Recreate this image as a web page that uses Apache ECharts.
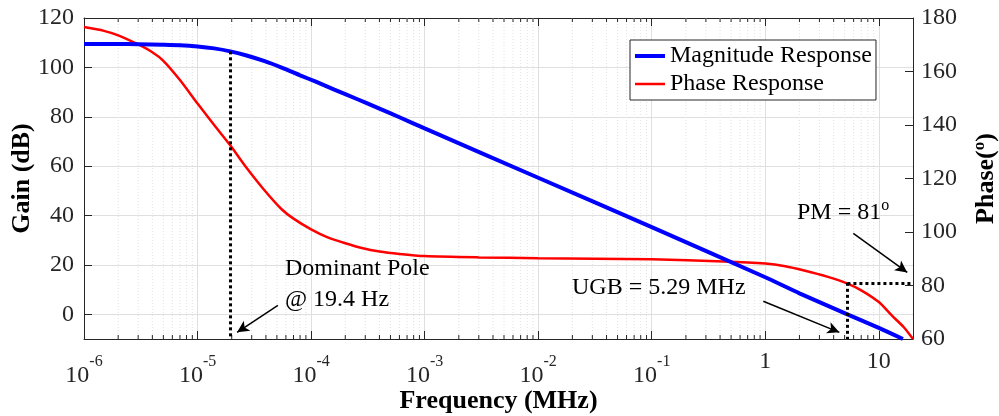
<!DOCTYPE html>
<html>
<head>
<meta charset="utf-8">
<script src="https://cdn.jsdelivr.net/npm/echarts@6/dist/echarts.min.js"></script>
<style>
  html, body { margin: 0; padding: 0; background: #fff; }
  #main { width: 999px; height: 416px; }
</style>
</head>
<body>
<div id="main"></div>
<script>
var FONT = 'Liberation Serif';

// magnitude response (MHz, dB)
var magFreq = [1e-6, 2e-6, 3e-6, 5e-6, 7e-6, 1e-5, 1.4e-5, 1.94e-5, 2.7e-5, 3.9e-5, 5.5e-5, 8e-5, 1.1e-4, 1.6e-4, 2.5e-4, 4e-4, 6e-4, 1e-3, 1e-2, 0.1, 1, 2, 5.29, 10, 16.3];
var magGain = [109.5, 109.5, 109.4, 109.2, 109.0, 108.5, 107.7, 106.5, 104.8, 102.5, 99.9, 96.8, 94.2, 91.0, 87.3, 83.3, 79.8, 75.3, 55.3, 35.3, 15.0, 8.5, 0, -5.5, -10];

// phase response (MHz, degrees)
var phFreq = [1e-6, 1.5e-6, 2e-6, 3e-6, 4e-6, 5e-6, 7e-6, 1e-5, 1.4e-5, 1.94e-5, 2.7e-5, 3.9e-5, 5.5e-5, 7e-5, 1e-4, 1.4e-4, 2e-4, 2.8e-4, 4e-4, 6e-4, 1e-3, 3e-3, 1e-2, 0.1, 0.43, 1, 1.5, 2.2, 3.5, 5.29, 7, 10, 13, 16.6, 20];
var phDeg = [176.6, 175.2, 173.5, 170.1, 167.2, 164, 156.8, 148, 140, 132.4, 124, 115.5, 108.5, 105, 101, 98, 95.8, 94, 92.7, 91.8, 91.0, 90.5, 90.2, 89.8, 89.0, 88.2, 87.2, 85.6, 83.3, 80.7, 78.2, 73.8, 68.8, 64.4, 60];

var poleFreq = 1.94e-5, poleGain = 106.5;
var ugbFreq = 5.29, pmPhase = 81;

// minor ticks 2..9 per decade
var minorVals = [];
for (var d = -6; d <= 1; d++) {
  for (var k = 2; k <= 9; k++) {
    var v = k * Math.pow(10, d);
    if (v < 20) minorVals.push([v, 0]);
  }
}

function zip(a, b) { return a.map(function (x, i) { return [x, b[i]]; }); }

var axisColor = '#262626';
var myChart = echarts.init(document.getElementById('main'));

var option = {
  animation: false,
  grid: { left: 84, right: 86, top: 18, bottom: 77, outerBoundsMode: 'none', containLabel: false },
  legend: {
    orient: 'vertical',
    left: 630, top: 40,
    padding: [4, 4, 4, 3],
    itemGap: 4,
    itemWidth: 30,
    itemHeight: 24,
    backgroundColor: '#fff',
    borderColor: axisColor,
    borderWidth: 1,
    borderRadius: 0,
    textStyle: { fontFamily: FONT, fontSize: 24, color: '#000' },
    data: [
      { name: 'Magnitude Response', lineStyle: { width: 4, color: '#0000ff' }, itemStyle: { opacity: 0 } },
      { name: 'Phase Response', lineStyle: { width: 2.5, color: '#ff0000' }, itemStyle: { opacity: 0 } }
    ]
  },
  xAxis: [{
    type: 'log', logBase: 10, min: 1e-6, max: 20,
    name: 'Frequency (MHz)', nameLocation: 'middle', nameGap: 49, nameMoveOverlap: false,
    nameTextStyle: { fontFamily: FONT, fontSize: 26, fontWeight: 'bold', color: '#000' },
    axisLine: { show: true, onZero: false, lineStyle: { color: axisColor } },
    axisTick: { inside: true, length: 8, lineStyle: { color: axisColor } },
    splitLine: { show: true, lineStyle: { color: '#dfdfdf' } },
    axisLabel: {
      margin: 15, color: axisColor, fontFamily: FONT,
      formatter: function (v) {
        var l = Math.log10(v), e = Math.round(l);
        if (Math.abs(l - e) > 0.01) return '';
        if (e >= 0) return '{n|' + Math.pow(10, e) + '}';
        return '{b|10}{s|' + e + '}';
      },
      rich: {
        b: { fontFamily: FONT, fontSize: 24, lineHeight: 34, color: axisColor, verticalAlign: 'bottom' },
        s: { fontFamily: FONT, fontSize: 16, lineHeight: 18, color: axisColor, verticalAlign: 'top' },
        n: { fontFamily: FONT, fontSize: 24, lineHeight: 16, color: axisColor }
      }
    }
  }, {
    type: 'log', logBase: 10, min: 1e-6, max: 20, position: 'top',
    axisLine: { show: true, onZero: false, lineStyle: { color: axisColor } },
    axisTick: { inside: true, length: 8, lineStyle: { color: axisColor } },
    axisLabel: { show: false },
    splitLine: { show: false }
  }],
  yAxis: [{
    type: 'value', min: -10, max: 120, splitNumber: 6,
    name: 'Gain (dB)', nameLocation: 'middle', nameGap: 49, nameRotate: 90, nameMoveOverlap: false,
    nameTextStyle: { fontFamily: FONT, fontSize: 26, fontWeight: 'bold', color: '#000' },
    axisLine: { show: true, lineStyle: { color: axisColor } },
    axisTick: { inside: true, length: 8, lineStyle: { color: axisColor } },
    splitLine: { show: true, lineStyle: { color: '#dfdfdf' } },
    axisLabel: { showMinLabel: false, margin: 10, fontFamily: FONT, fontSize: 24, color: axisColor }
  }, {
    type: 'value', min: 60, max: 180, interval: 20, position: 'right',
    name: 'Phase({o|o})', nameLocation: 'middle', nameGap: 58, nameRotate: 90, nameMoveOverlap: false,
    nameTextStyle: {
      fontFamily: FONT, fontSize: 26, fontWeight: 'bold', color: '#000', lineHeight: 30,
      rich: { o: { fontFamily: FONT, fontSize: 17, fontWeight: 'bold', color: '#000', lineHeight: 14, verticalAlign: 'top' } }
    },
    axisLine: { show: true, lineStyle: { color: axisColor } },
    axisTick: { inside: true, length: 8, lineStyle: { color: axisColor } },
    splitLine: { show: false },
    axisLabel: { margin: 8, fontFamily: FONT, fontSize: 24, color: axisColor }
  }],
  series: [{
    type: 'custom',
    name: 'minor',
    xAxisIndex: 0, yAxisIndex: 0,
    z: 1, silent: true,
    data: minorVals,
    renderItem: function (params, api) {
      var v = api.value(0);
      var top = api.coord([v, 120]);
      var bot = api.coord([v, -10]);
      return {
        type: 'group',
        children: [
          { type: 'line', shape: { x1: top[0], y1: top[1], x2: bot[0], y2: bot[1] },
            style: { stroke: '#e2e2e2', lineWidth: 1, lineDash: [1, 2] } },
          { type: 'line', shape: { x1: bot[0], y1: bot[1], x2: bot[0], y2: bot[1] - 4 },
            style: { stroke: axisColor, lineWidth: 1 } },
          { type: 'line', shape: { x1: top[0], y1: top[1], x2: top[0], y2: top[1] + 4 },
            style: { stroke: axisColor, lineWidth: 1 } }
        ]
      };
    }
  }, {
    type: 'line',
    name: 'Magnitude Response',
    xAxisIndex: 0, yAxisIndex: 0,
    data: zip(magFreq, magGain),
    symbol: 'none', smooth: 0.25,
    lineStyle: { color: '#0000ff', width: 4 },
    itemStyle: { color: '#0000ff' },
    z: 3,
    markLine: {
      silent: true, symbol: ['none', 'none'], label: { show: false },
      data: [
        [{ coord: [poleFreq, poleGain], lineStyle: { type: [3, 3], width: 3, color: '#000' } },
         { coord: [poleFreq, -10] }],
        [{ coord: [5.1e-5, 3.6], lineStyle: { type: 'solid', width: 1.5, color: '#000' } },
         { coord: [2.23e-5, -7.3], symbol: 'arrow', symbolSize: [9, 12] }],
        [{ coord: [0.96, 5.3], lineStyle: { type: 'solid', width: 1.5, color: '#000' } },
         { coord: [4.49, -7.3], symbol: 'arrow', symbolSize: [9, 12] }]
      ]
    }
  }, {
    type: 'line',
    name: 'Phase Response',
    xAxisIndex: 0, yAxisIndex: 1,
    data: zip(phFreq, phDeg),
    symbol: 'none', smooth: 0.25,
    lineStyle: { color: '#ff0000', width: 2.5 },
    itemStyle: { color: '#ff0000' },
    z: 2,
    markLine: {
      silent: true, symbol: ['none', 'none'], label: { show: false },
      data: [
        [{ coord: [ugbFreq, pmPhase], lineStyle: { type: [3, 3], width: 3, color: '#000' } },
         { coord: [ugbFreq, 60] }],
        [{ coord: [ugbFreq, pmPhase], lineStyle: { type: [3, 3], width: 3, color: '#000' } },
         { coord: [20, pmPhase] }],
        [{ coord: [5.96, 99.5], lineStyle: { type: 'solid', width: 1.5, color: '#000' } },
         { coord: [17.8, 84.9], symbol: 'arrow', symbolSize: [9, 12] }]
      ]
    }
  }],
  graphic: [
    { type: 'text', left: 285, top: 257, z: 10,
      style: { text: 'Dominant Pole', fontFamily: FONT, fontSize: 24, fill: '#000' } },
    { type: 'text', left: 285, top: 288, z: 10,
      style: { text: '@ 19.4 Hz', fontFamily: FONT, fontSize: 24, fill: '#000' } },
    { type: 'text', left: 572, top: 276, z: 10,
      style: { text: 'UGB = 5.29 MHz', fontFamily: FONT, fontSize: 24, fill: '#000' } },
    { type: 'text', left: 797, top: 198, z: 10,
      style: { text: 'PM = 81{s|o}', fontFamily: FONT, fontSize: 24, fill: '#000', lineHeight: 30,
        rich: { s: { fontFamily: FONT, fontSize: 16, fill: '#000', lineHeight: 16, verticalAlign: 'top' } } } }
  ]
};
myChart.setOption(option);
</script>
</body>
</html>
